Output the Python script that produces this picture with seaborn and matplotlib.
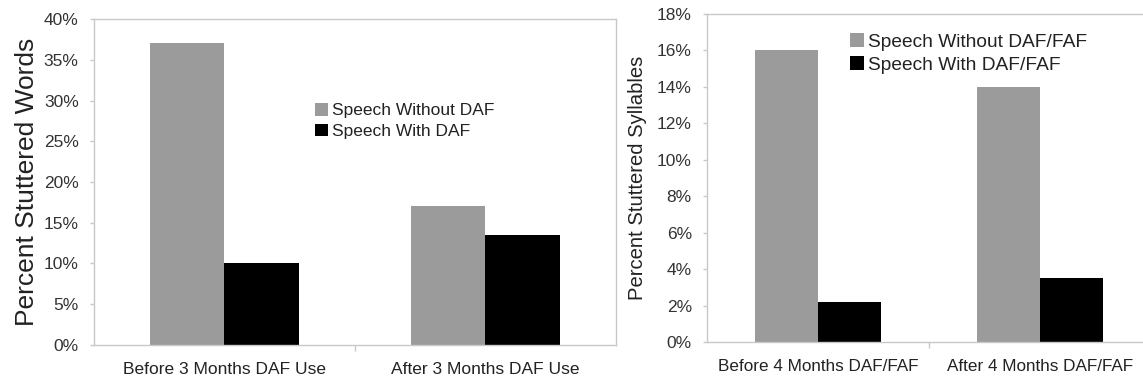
import matplotlib
matplotlib.use("Agg")
import matplotlib.pyplot as plt
import seaborn as sns
import pandas as pd

# ---- data ----
left_categories = ["Before 3 Months DAF Use", "After 3 Months DAF Use"]
left_series = ["Speech Without DAF", "Speech With DAF"]
left_without = [37.0, 17.0]
left_with = [10.0, 13.5]
left_yticks = [0, 5, 10, 15, 20, 25, 30, 35, 40]
left_ylabel = "Percent Stuttered Words"

right_categories = ["Before 4 Months DAF/FAF", "After 4 Months DAF/FAF"]
right_series = ["Speech Without DAF/FAF", "Speech With DAF/FAF"]
right_without = [16.0, 14.0]
right_with = [2.2, 3.5]
right_yticks = [0, 2, 4, 6, 8, 10, 12, 14, 16, 18]
right_ylabel = "Percent Stuttered Syllables"

GRAY = "#9b9b9b"
BLACK = "#000000"
FRAME = "#c8c8c8"
TEXT = "#222222"

sns.set_theme(style="white")
plt.rcParams["font.family"] = ["Liberation Sans", "DejaVu Sans"]


def long_df(cats, series, a, b):
    rows = []
    for c, v in zip(cats, a):
        rows.append({"cat": c, "series": series[0], "val": v})
    for c, v in zip(cats, b):
        rows.append({"cat": c, "series": series[1], "val": v})
    return pd.DataFrame(rows)


fig = plt.figure(figsize=(11.43, 3.81), dpi=100)
ax1 = fig.add_axes([0.0822, 0.0945, 0.4567, 0.8556])
ax2 = fig.add_axes([0.6186, 0.1024, 0.3885, 0.861])


def draw(ax, cats, series, a, b, yticks, ylabel, ylabel_size, label_x,
         leg_xy, leg_size, cat_size, show_right):
    df = long_df(cats, series, a, b)
    sns.barplot(data=df, x="cat", y="val", hue="series", order=cats,
                hue_order=series, palette=[GRAY, BLACK], saturation=1,
                width=0.57, linewidth=0, ax=ax)
    handles, labels = ax.get_legend_handles_labels()
    if ax.get_legend() is not None:
        ax.get_legend().remove()
    fig.legend(handles, labels, loc="upper left", bbox_to_anchor=leg_xy,
               bbox_transform=fig.transFigure, frameon=False, borderpad=0,
               borderaxespad=0, handlelength=0.75, handleheight=0.75,
               handletextpad=0.2, labelspacing=0.3,
               prop={"size": leg_size}, labelcolor=TEXT)
    ax.set_xlim(-0.5, 1.5)
    ax.set_ylim(yticks[0], yticks[-1])
    ax.set_yticks(yticks)
    ax.set_yticklabels([f"{t}%" for t in yticks], fontsize=12.5, color="#333333")
    ax.set_xticks(range(len(cats)))
    ax.set_xticklabels(cats, fontsize=cat_size, color=TEXT)
    ax.set_xticks([0.5], minor=True)
    ax.tick_params(axis="y", which="major", length=3, width=1, color=FRAME,
                   direction="out", pad=8, left=True)
    ax.tick_params(axis="x", which="major", length=0, pad=12)
    ax.tick_params(axis="x", which="minor", length=4, width=1, color=FRAME,
                   direction="out", bottom=True)
    ax.set_xlabel("")
    ax.set_ylabel(ylabel, fontsize=ylabel_size, color=TEXT)
    ax.yaxis.set_label_coords(label_x, 0.5)
    for name, sp in ax.spines.items():
        sp.set_color(FRAME)
        sp.set_linewidth(1)
        sp.set_visible(True)
    if not show_right:
        ax.spines["right"].set_visible(False)
    ax.grid(False)


draw(ax1, left_categories, left_series, left_without, left_with, left_yticks,
     left_ylabel, 19, -0.106, (0.2756, 0.7297), 12.5, 12.5, True)
draw(ax2, right_categories, right_series, right_without, right_with, right_yticks,
     right_ylabel, 14.6, -0.135, (0.7437, 0.9134), 13.8, 12.3, False)

fig.savefig("out.png", dpi=100)
